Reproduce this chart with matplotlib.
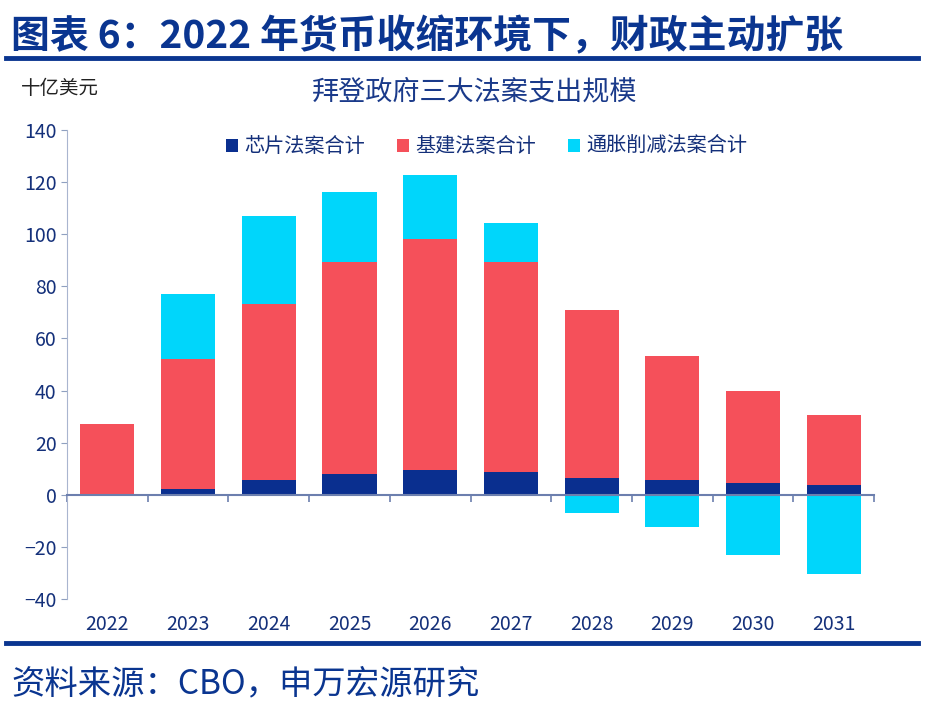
import matplotlib.pyplot as plt
import matplotlib.transforms as mtransforms
import numpy as np

plt.rcParams['font.family'] = ['Noto Sans CJK SC', 'DejaVu Sans']

years = ['2022', '2023', '2024', '2025', '2026', '2027', '2028', '2029', '2030', '2031']
chip = [0, 2.4, 5.7, 7.9, 9.4, 8.6, 6.6, 5.6, 4.5, 3.7]
infra = [27.0, 49.9, 67.6, 81.4, 88.8, 80.7, 64.2, 47.6, 35.2, 26.8]
ira = [0, 24.9, 33.7, 27.1, 24.5, 15.1, -7.0, -12.4, -23.3, -30.3]
labels = ['芯片法案合计', '基建法案合计', '通胀削减法案合计']

navy = '#0a2f8f'
red = '#f5505a'
cyan = '#00d6fb'
dark = '#14307a'

fig = plt.figure(figsize=(9.34, 7.12), dpi=100)
ax = fig.add_axes([0.0717, 0.1587, 0.8643, 0.6587])

x = np.arange(len(years))
chip = np.array(chip)
infra = np.array(infra)
ira = np.array(ira)
w = 0.67

ax.bar(x, chip, w, color=navy, label=labels[0])
ax.bar(x, infra, w, bottom=chip, color=red, label=labels[1])
# Excel stacks negative values separately, starting from zero
ira_bottom = np.where(ira >= 0, chip + infra, 0)
ax.bar(x, ira, w, bottom=ira_bottom, color=cyan, label=labels[2])

ax.set_xlim(-0.5, 9.5)
ax.set_ylim(-40, 140)
ax.set_yticks(np.arange(-40, 141, 20))
ax.tick_params(axis='y', colors='#8fa0c0', labelcolor=dark, labelsize=14, length=4, direction='out')

for s in ['top', 'right']:
    ax.spines[s].set_visible(False)
ax.spines['left'].set_color('#a9b5cf')
ax.spines['bottom'].set_color('#6c7fae')
ax.spines['bottom'].set_linewidth(1.5)
ax.spines['bottom'].set_position(('data', 0))

ax.set_xticks(np.arange(-0.5, 10, 1))
ax.set_xticklabels([])
ax.tick_params(axis='x', colors='#6c7fae', length=5, width=1.2, direction='out')

trans = mtransforms.blended_transform_factory(ax.transData, ax.transAxes)
for i, yr in enumerate(years):
    ax.text(i, -0.055, yr, transform=trans, ha='center', va='center', fontsize=14, color=dark)

ax.legend(loc='upper center', bbox_to_anchor=(0.52, 1.025), ncol=3, frameon=False,
          fontsize=14.5, handlelength=0.6, handleheight=0.6, handletextpad=0.3,
          columnspacing=1.6, labelcolor=dark)

fig.text(0.012, 0.949, '图表 6：2022 年货币收缩环境下，财政主动扩张', fontsize=28,
         fontweight='bold', color='#0a3590', va='center', ha='left')
fig.add_artist(plt.Line2D([0.006, 0.983], [0.918, 0.918], color='#0a3590', lw=3.5))
fig.text(0.022, 0.876, '十亿美元', fontsize=14, color='#222222', va='center')
fig.text(0.508, 0.871, '拜登政府三大法案支出规模', fontsize=19.5, color='#1a3a8a', va='center', ha='center')
fig.add_artist(plt.Line2D([0.006, 0.983], [0.097, 0.097], color='#0a3590', lw=3.5))
fig.text(0.012, 0.04, '资料来源：CBO，申万宏源研究', fontsize=24, color='#0a3590', va='center')

fig.savefig('out.png', dpi=100)
